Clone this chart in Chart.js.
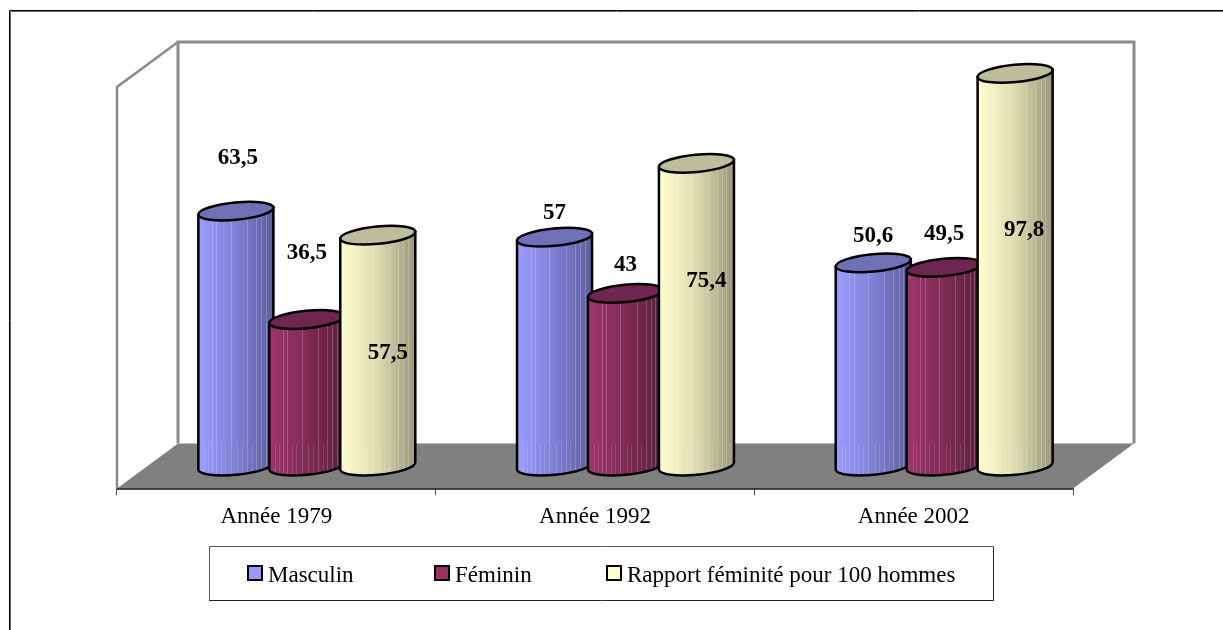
<!DOCTYPE html>
<html lang="fr">
<head>
<meta charset="utf-8">
<title>Rapport de féminité</title>
<style>
html,body{margin:0;padding:0;background:#fff;overflow:hidden}
#wrap{position:relative;width:1223px;height:630px}
canvas{display:block}
</style>
<script src="https://cdn.jsdelivr.net/npm/chart.js@4/dist/chart.umd.min.js"></script>
</head>
<body>
<div id="wrap"><canvas id="c" width="1223" height="630"></canvas></div>
<script>
// ---- data ----
const categories = ['Année 1979', 'Année 1992', 'Année 2002'];
const masculin = [63.5, 57, 50.6];
const feminin = [36.5, 43, 49.5];
const rapport = [57.5, 75.4, 97.8];
const seriesNames = ['Masculin', 'Féminin', 'Rapport féminité pour 100 hommes'];

// ---- styling ----
const FONT = '"Liberation Serif", "Times New Roman", serif';
const DEPTH_X = 61, DEPTH_Y = -45;      // full depth of the 3D box
const BAR_SHIFT_X = 30.5, BAR_SHIFT_Y = -22.4; // bars stand mid-depth
const palette = [
  {left:'#9c9cff', mid:'#8080d4', right:'#5e5e9e', top:'#7070b6', swatch:'#9999ff'},
  {left:'#a03569', mid:'#802b55', right:'#5a1f3d', top:'#6e2650', swatch:'#993366'},
  {left:'#ffffcf', mid:'#dcdcb0', right:'#98987a', top:'#bdbd9c', swatch:'#ffffcc'}
];
// manual placement of the value labels relative to the top of each bar [series][category]
const labelShift = [
  [[2,-53],[0,-24],[0,-27]],
  [[0,-66],[0,-28],[0,-33]],
  [[10,118],[10,118],[9,157]]
];
const stripesUpper = [.18,.24,.43,.65,.77,.84,.9];
const stripesLower = [.08,.13,.3,.36,.52,.58,.71,.95];
const legendItems = [
  {sx:248, tx:268},
  {sx:435, tx:455},
  {sx:607, tx:627}
];

function cylinderPaths(ctx, cx, topY, baseY, hw) {
  const a = hw * 1.006, b = 8.7, rot = -5.5 * Math.PI / 180;
  return {
    body() {
      ctx.beginPath();
      ctx.ellipse(cx, baseY, a, b, rot, 0, Math.PI);
      ctx.lineTo(cx - a * Math.cos(rot), topY - a * Math.sin(rot));
      ctx.lineTo(cx + a * Math.cos(rot), topY + a * Math.sin(rot));
      ctx.closePath();
    },
    top() {
      ctx.beginPath();
      ctx.ellipse(cx, topY, a, b, rot, 0, Math.PI * 2);
      ctx.closePath();
    }
  };
}

function drawCylinders(chart, index) {
  // replace the flat bars by cylinders drawn at the bars' own scale positions
  const {ctx, chartArea: ca} = chart;
  const p = palette[index];
  const floorBack = ca.bottom + DEPTH_Y;
  chart.getDatasetMeta(index).data.forEach(bar => {
    const hw = bar.width / 2;
    const cx = bar.x + BAR_SHIFT_X;
    const topY = bar.y + BAR_SHIFT_Y;
    const baseY = bar.base + BAR_SHIFT_Y;
    const path = cylinderPaths(ctx, cx, topY, baseY, hw);
    const g = ctx.createLinearGradient(cx - hw, 0, cx + hw, 0);
    g.addColorStop(0, p.left);
    g.addColorStop(0.5, p.mid);
    g.addColorStop(1, p.right);
    ctx.save();
    ctx.fillStyle = g;
    path.body();
    ctx.fill();
    ctx.save();
    path.body();
    ctx.clip();
    ctx.fillStyle = 'rgba(255,255,255,.2)';
    stripesUpper.forEach(f => ctx.fillRect(Math.round(cx - hw + f * 2 * hw), topY - 10, 1, baseY - topY + 30));
    ctx.fillStyle = 'rgba(255,255,255,.13)';
    stripesLower.forEach(f => ctx.fillRect(Math.round(cx - hw + f * 2 * hw), floorBack, 1, 60));
    ctx.restore();
    ctx.strokeStyle = '#000';
    ctx.lineWidth = 2.5;
    path.body();
    ctx.stroke();
    ctx.fillStyle = p.top;
    path.top();
    ctx.fill();
    ctx.stroke();
    ctx.restore();
  });
}

const box3d = {
  id: 'box3d',
  beforeDatasetsDraw(chart) {
    const {ctx, chartArea: ca} = chart;
    ctx.save();
    // floor
    ctx.fillStyle = '#808080';
    ctx.beginPath();
    ctx.moveTo(ca.left, ca.bottom);
    ctx.lineTo(ca.left + DEPTH_X, ca.bottom + DEPTH_Y);
    ctx.lineTo(ca.right + DEPTH_X, ca.bottom + DEPTH_Y);
    ctx.lineTo(ca.right, ca.bottom);
    ctx.closePath();
    ctx.fill();
    // walls
    ctx.strokeStyle = '#8c8c8c';
    ctx.lineWidth = 2.5;
    ctx.lineJoin = 'miter';
    ctx.beginPath();
    ctx.moveTo(ca.left, ca.bottom);
    ctx.lineTo(ca.left, ca.top);
    ctx.lineTo(ca.left + DEPTH_X, ca.top + DEPTH_Y);
    ctx.stroke();
    ctx.lineWidth = 3;
    ctx.beginPath();
    ctx.moveTo(ca.left + DEPTH_X, ca.bottom + DEPTH_Y);
    ctx.lineTo(ca.left + DEPTH_X, ca.top + DEPTH_Y);
    ctx.lineTo(ca.right + DEPTH_X, ca.top + DEPTH_Y);
    ctx.lineTo(ca.right + DEPTH_X, ca.bottom + DEPTH_Y);
    ctx.stroke();
    // front edge of the floor
    ctx.strokeStyle = '#111';
    ctx.lineWidth = 1.5;
    ctx.beginPath();
    ctx.moveTo(ca.left, ca.bottom + 0.5);
    ctx.lineTo(ca.right, ca.bottom + 0.5);
    ctx.stroke();
    ctx.restore();
    // series order: each later series in front of the previous one
    chart.data.datasets.forEach((ds, s) => drawCylinders(chart, s));
  },
  beforeDatasetDraw() {
    return false; // flat bars are replaced by the cylinders above
  },
  afterDraw(chart) {
    const {ctx} = chart;
    ctx.save();
    // value labels
    ctx.font = 'bold 23px ' + FONT;
    ctx.fillStyle = '#000';
    ctx.textAlign = 'center';
    ctx.textBaseline = 'middle';
    chart.data.datasets.forEach((ds, s) => {
      chart.getDatasetMeta(s).data.forEach((bar, i) => {
        const [ox, oy] = labelShift[s][i];
        ctx.fillText(String(ds.data[i]).replace('.', ','), bar.x + BAR_SHIFT_X + ox, bar.y + BAR_SHIFT_Y + oy);
      });
    });
    // outer frame (top and left only)
    ctx.strokeStyle = '#6e6e6e';
    ctx.lineWidth = 1;
    ctx.beginPath();
    ctx.moveTo(10.5, 630); ctx.lineTo(10.5, 11.5); ctx.lineTo(1223, 11.5);
    ctx.stroke();
    ctx.strokeStyle = '#000';
    ctx.beginPath();
    ctx.moveTo(9.5, 630); ctx.lineTo(9.5, 10.5); ctx.lineTo(1223, 10.5);
    ctx.stroke();
    // legend box
    ctx.strokeStyle = '#555';
    ctx.beginPath();
    ctx.moveTo(209.5, 601); ctx.lineTo(209.5, 546.5); ctx.lineTo(993, 546.5);
    ctx.stroke();
    ctx.strokeStyle = '#222';
    ctx.beginPath();
    ctx.moveTo(209.5, 600.5); ctx.lineTo(993.5, 600.5); ctx.lineTo(993.5, 546.5);
    ctx.stroke();
    ctx.font = '23px ' + FONT;
    ctx.textAlign = 'left';
    ctx.textBaseline = 'middle';
    chart.data.datasets.forEach((ds, s) => {
      const it = legendItems[s];
      ctx.fillStyle = palette[s].swatch;
      ctx.fillRect(it.sx, 566, 14, 14);
      ctx.strokeStyle = '#000';
      ctx.lineWidth = 2;
      ctx.strokeRect(it.sx, 566, 14, 14);
      ctx.fillStyle = '#000';
      ctx.fillText(ds.label, it.tx, 576);
    });
    ctx.restore();
  }
};

new Chart(document.getElementById('c'), {
  type: 'bar',
  data: {
    labels: categories,
    datasets: [
      {label: seriesNames[0], data: masculin, backgroundColor: palette[0].swatch},
      {label: seriesNames[1], data: feminin, backgroundColor: palette[1].swatch},
      {label: seriesNames[2], data: rapport, backgroundColor: palette[2].swatch}
    ]
  },
  options: {
    responsive: false,
    animation: false,
    events: [],
    datasets: {bar: {categoryPercentage: 0.668, barPercentage: 1.056}},
    layout: {padding: {left: 117, right: 150, top: 87, bottom: 91}},
    plugins: {legend: {display: false}, tooltip: {enabled: false}, title: {display: false}},
    scales: {
      y: {display: false, min: 0, max: 100},
      x: {
        grid: {drawOnChartArea: false, drawTicks: true, tickLength: 7, tickColor: '#555', tickWidth: 1},
        border: {display: false},
        ticks: {color: '#000', padding: 8, maxRotation: 0, font: {family: FONT, size: 23}}
      }
    }
  },
  plugins: [box3d]
});
</script>
</body>
</html>
